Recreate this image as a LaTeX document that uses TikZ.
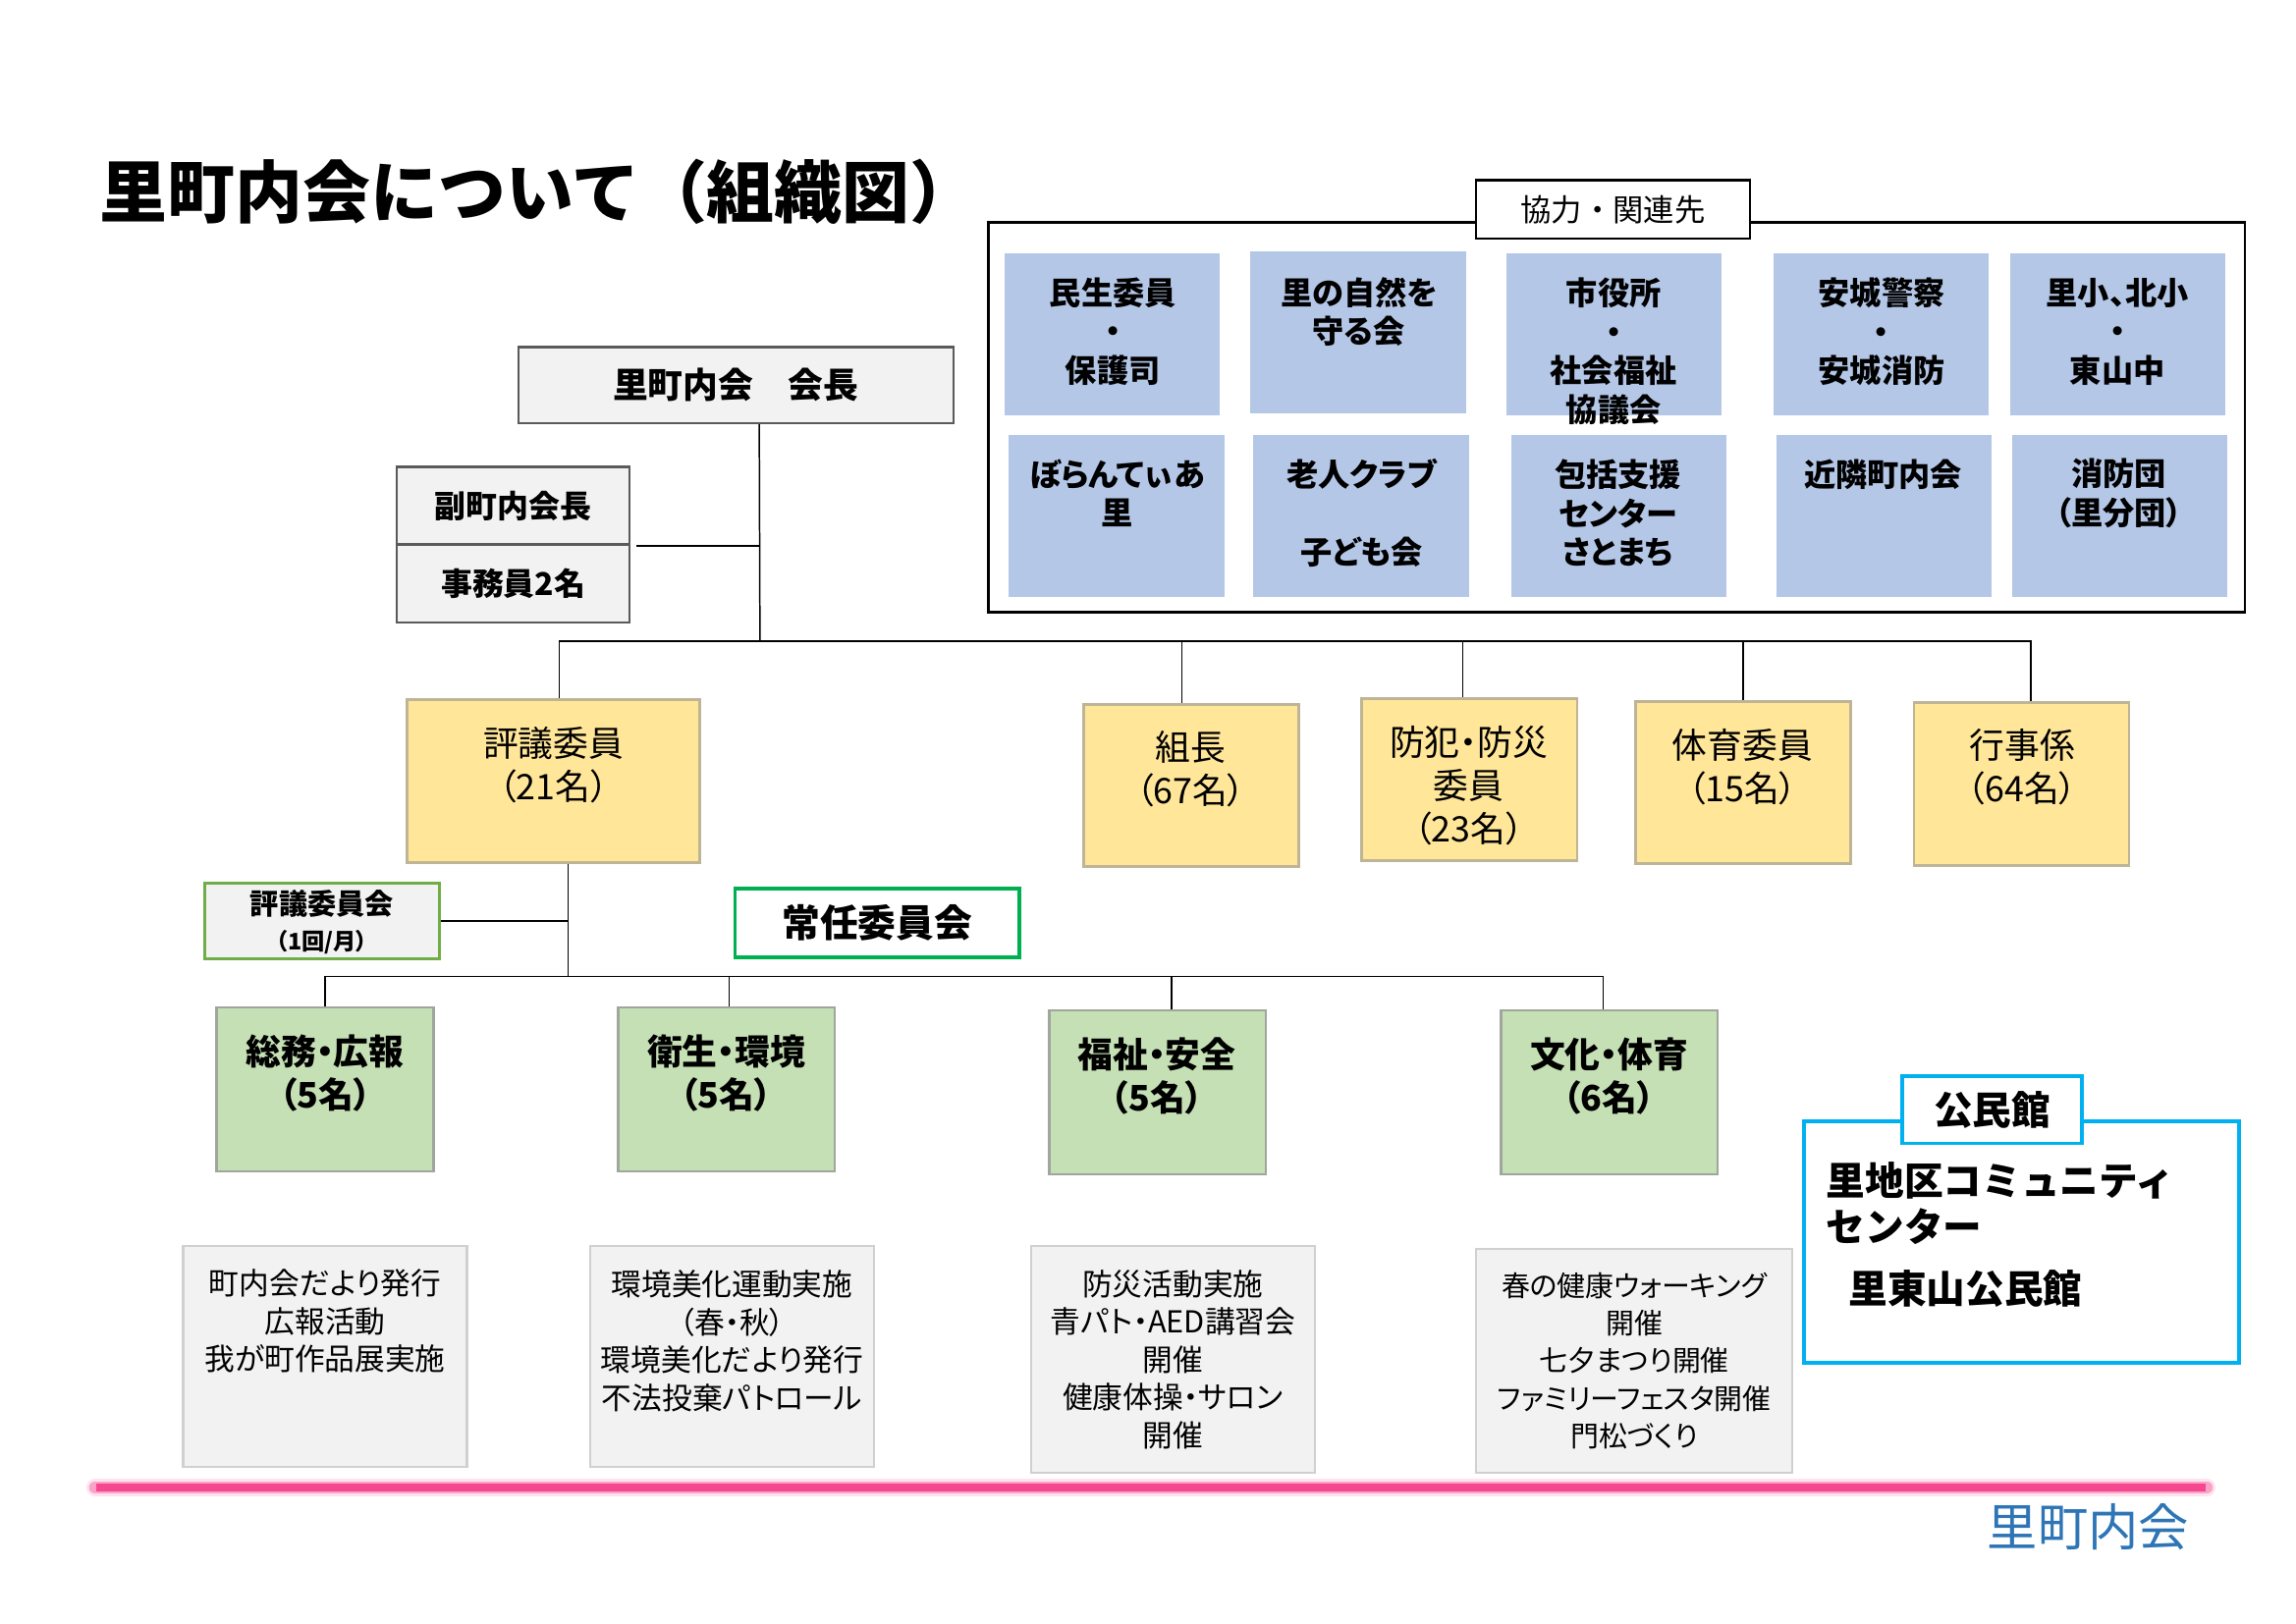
\documentclass[tikz,border=0pt]{standalone}
\usepackage{fontspec}
\setmainfont{Noto Sans CJK JP}
\newfontfamily\jpp{Noto Sans CJK JP}[RawFeature=+palt]
\definecolor{bluefill}{RGB}{180,199,231}
\definecolor{yelfill}{RGB}{255,230,153}
\definecolor{yelline}{RGB}{190,180,150}
\definecolor{grnfill}{RGB}{197,224,180}
\definecolor{grnline}{RGB}{160,166,158}
\definecolor{actfill}{RGB}{242,242,242}
\definecolor{actline}{RGB}{208,208,208}
\definecolor{chairline}{RGB}{90,90,90}
\definecolor{leafgreen}{RGB}{112,173,71}
\definecolor{brightgreen}{RGB}{0,176,80}
\definecolor{skyblue}{RGB}{0,176,240}
\definecolor{pinkline}{RGB}{246,72,142}
\definecolor{footblue}{RGB}{46,117,182}
\begin{document}
\begin{tikzpicture}[x=0.5pt,y=-0.5pt,
  every node/.style={inner sep=0pt},
  coopbox/.style={fill=bluefill,minimum width=73.5pt,minimum height=55.5pt},
  cooptext/.style={align=center,font=\jpp\bfseries\fontsize{10.8}{13.25}\selectfont},
  yelbox/.style={draw=yelline,line width=0.9pt,fill=yelfill,minimum width=73.5pt,minimum height=55.5pt},
  yeltext/.style={align=center,font=\jpp\fontsize{12}{14.75}\selectfont},
  grnbox/.style={draw=grnline,line width=0.9pt,fill=grnfill,minimum width=74pt,minimum height=56pt},
  grntext/.style={align=center,font=\jpp\bfseries\fontsize{12}{15}\selectfont},
  actbox/.style={draw=actline,line width=0.8pt,fill=actfill,minimum width=97pt,minimum height=75.5pt},
  acttext/.style={align=center,font=\jpp\fontsize{10.3}{12.9}\selectfont},
  graybox/.style={draw=chairline,line width=0.8pt,fill=actfill},
  conn/.style={draw=black,line width=0.5pt}
]
  \useasboundingbox (0,0) rectangle (1568,1109);
  % title
  \node[anchor=west,font=\bfseries\fontsize{23.1}{27}\selectfont] (title) at (68,131) {里町内会について（組織図）};

  % cooperation frame
  \node[draw,line width=0.9pt,minimum width=429pt,minimum height=133pt] (coop) at (1104,285) {};
  \node[draw,line width=0.9pt,fill=white,minimum width=93.5pt,minimum height=20pt,
        font=\fontsize{10.5}{12}\selectfont] (cooplbl) at (1101.5,143) {協力・関連先};
  % cooperation boxes, upper row
  \node[coopbox] (minsei) at (759.5,228.5) {};
  \node[coopbox] (shizen) at (927.5,227) {};
  \node[coopbox] (shiyaku) at (1102,228.5) {};
  \node[coopbox] (keisatsu) at (1284.5,228.5) {};
  \node[coopbox] (gakko) at (1446.5,228.5) {};
  \node[cooptext] (minsei-t) at (760,226.5) {民生委員\\・\\保護司};
  \node[cooptext] (shizen-t) at (928,213) {里の自然を\\守る会};
  \node[cooptext] (shiyaku-t) at (1102,240) {市役所\\・\\社会福祉\\協議会};
  \node[cooptext] (keisatsu-t) at (1285,226.5) {安城警察\\・\\安城消防};
  \node[cooptext] (gakko-t) at (1446,226.5) {里小、北小\\・\\東山中};
  % cooperation boxes, lower row
  \node[coopbox] (volun) at (762.5,352.5) {};
  \node[coopbox] (rojin) at (929.5,352.5) {};
  \node[coopbox] (hokatsu) at (1105.5,352.5) {};
  \node[coopbox] (kinrin) at (1286.5,352.5) {};
  \node[coopbox] (shobo) at (1447.5,352.5) {};
  \node[cooptext] (volun-t) at (763,337) {ぼらんてぃあ\\里};
  \node[cooptext] (rojin-t) at (930,350.5) {老人クラブ\\[13.25pt]子ども会};
  \node[cooptext] (hokatsu-t) at (1105,350.5) {包括支援\\センター\\さとまち};
  \node[cooptext] (kinrin-t) at (1286,324) {近隣町内会};
  \node[cooptext] (shobo-t) at (1447,337) {消防団\\（里分団）};

  % chairman and staff
  \node[graybox,minimum width=148.5pt,minimum height=26pt,
        font=\bfseries\fontsize{12}{14}\selectfont] (chair) at (502.5,263) {里町内会　会長};
  \node[graybox,minimum width=79.5pt,minimum height=26.5pt,
        font=\bfseries\fontsize{10.7}{12}\selectfont] (fuku) at (350.5,345.5) {副町内会長};
  \node[graybox,minimum width=79.5pt,minimum height=26.5pt,
        font=\bfseries\fontsize{10.7}{12}\selectfont] (jimu) at (350.5,398.5) {事務員2名};

  % yellow boxes
  \node[yelbox,minimum width=100pt] (hyogi) at (378,533.5) {};
  \node[yelbox] (kumi) at (813.5,536.5) {};
  \node[yelbox] (bohan) at (1003.5,532.5) {};
  \node[yelbox] (taiiku) at (1190.5,534.5) {};
  \node[yelbox] (gyoji) at (1380.5,535.5) {};
  \node[yeltext] (hyogi-t) at (378,522.5) {評議委員\\（21名）};
  \node[yeltext] (kumi-t) at (813,525) {組長\\（67名）};
  \node[yeltext] (bohan-t) at (1003,536.5) {防犯・防災\\委員\\（23名）};
  \node[yeltext] (taiiku-t) at (1190,524) {体育委員\\（15名）};
  \node[yeltext] (gyoji-t) at (1381,524) {行事係\\（64名）};

  % committees
  \node[draw=leafgreen,line width=1pt,fill=actfill,minimum width=80pt,minimum height=26pt] (kaigi) at (220,629) {};
  \node[align=center,font=\jpp\bfseries\fontsize{9.8}{12}\selectfont] (kaigi-t) at (220,630)
       {評議委員会\\{\fontsize{7.8}{12}\selectfont （1回/月）}};
  \node[draw=brightgreen,line width=1.3pt,fill=white,minimum width=97pt,minimum height=23.5pt,
        font=\bfseries\fontsize{13}{15}\selectfont] (jonin) at (599,630.5) {常任委員会};

  % green boxes
  \node[grnbox] (soumu) at (222,744) {};
  \node[grnbox] (eisei) at (496,744) {};
  \node[grnbox] (fukushi) at (790.5,746) {};
  \node[grnbox] (bunka) at (1099,746) {};
  \node[grntext] (soumu-t) at (222,733) {総務・広報\\（5名）};
  \node[grntext] (eisei-t) at (496,733) {衛生・環境\\（5名）};
  \node[grntext] (fukushi-t) at (790,735) {福祉・安全\\（5名）};
  \node[grntext] (bunka-t) at (1099,735) {文化・体育\\（6名）};

  % activity boxes
  \node[actbox] (act1) at (222,926.5) {};
  \node[actbox] (act2) at (500,926.5) {};
  \node[actbox,minimum height=77.5pt] (act3) at (801,928.5) {};
  \node[actbox,minimum width=108pt,minimum height=76.5pt] (act4) at (1116,929.5) {};
  \node[acttext] (act1-t) at (222,902.5) {町内会だより発行\\広報活動\\我が町作品展実施};
  \node[acttext] (act2-t) at (500,916) {環境美化運動実施\\（春・秋）\\環境美化だより発行\\不法投棄パトロール};
  \node[acttext] (act3-t) at (801,928.5) {防災活動実施\\青パト・AED講習会\\開催\\健康体操・サロン\\開催};
  \node[acttext,font=\jpp\fontsize{9.7}{12.9}\selectfont] (act4-t) at (1116,929.5)
       {春の健康ウォーキング\\開催\\七夕まつり開催\\ファミリーフェスタ開催\\門松づくり};

  % community center
  \node[draw=skyblue,line width=1.3pt,minimum width=148.5pt,minimum height=82.5pt] (kcenter) at (1380.5,848.5) {};
  \node[draw=skyblue,line width=1.3pt,fill=white,minimum width=61.5pt,minimum height=23pt,
        font=\bfseries\fontsize{13.3}{15}\selectfont] (kcenter-l) at (1360.5,758) {公民館};
  \node[anchor=west,align=left,font=\bfseries\fontsize{13.3}{16}\selectfont] (kcenter-t) at (1247,822)
       {里地区コミュニティ\\センター};
  \node[anchor=west,font=\bfseries\fontsize{13.3}{16}\selectfont] (higashi-t) at (1262,880) {里東山公民館};

  % connectors
  \coordinate (bus) at (519,438);
  \coordinate (bus2) at (388,667);
  \draw[conn] ([xshift=8pt]chair.south) -- (bus);
  \draw[conn] ([xshift=2pt]fuku.south east) -- (fuku.south east -| bus);
  \draw[conn] ([xshift=2pt]hyogi.north) |- (bus);
  \draw[conn] (bus) -| ([xshift=3.25pt]gyoji.north);
  \draw[conn] ([xshift=-3.25pt]kumi.north) -- ([xshift=-3.25pt]kumi.north |- bus);
  \draw[conn] ([xshift=-2.25pt]bohan.north) -- ([xshift=-2.25pt]bohan.north |- bus);
  \draw[conn] (taiiku.north) -- (taiiku.north |- bus);
  \draw[conn] ([xshift=5pt]hyogi.south) -- (bus2);
  \draw[conn] (kaigi.east) -- (kaigi.east -| bus2);
  \draw[conn] (soumu.north) |- (bus2);
  \draw[conn] (bus2) -| ([xshift=-2pt]bunka.north);
  \draw[conn] ([xshift=1pt]eisei.north) -- ([xshift=1pt]eisei.north |- bus2);
  \draw[conn] ([xshift=4.75pt]fukushi.north) -- ([xshift=4.75pt]fukushi.north |- bus2);

  % pink bottom line
  \draw[line width=6pt,pinkline!15,line cap=round] (65,1016) -- (1507,1016);
  \draw[line width=4.2pt,pinkline!50,line cap=round] (65,1016) -- (1507,1016);
  \draw[line width=2.8pt,pinkline] (66,1016) -- (1506,1016);
  \node[font=\fontsize{17.2}{20}\selectfont,text=footblue] (footer) at (1426,1043) {里町内会};
\end{tikzpicture}
\end{document}
